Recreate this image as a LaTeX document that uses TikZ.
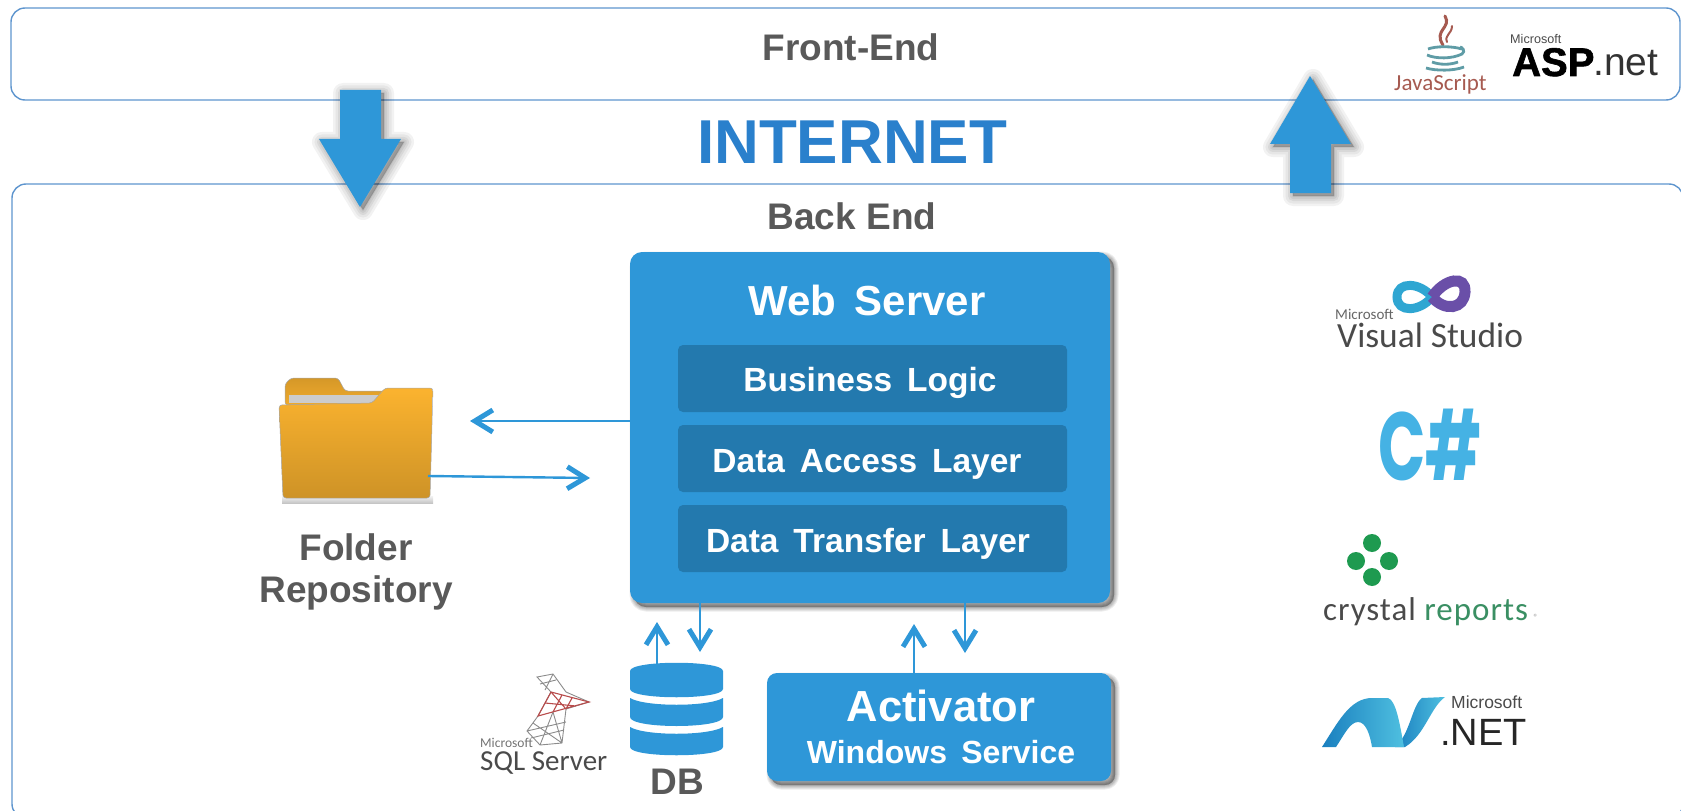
\documentclass[tikz,border=0pt]{standalone}
\usepackage{fontspec}
\setmainfont{Liberation Sans}
\newfontfamily\wideface[WordSpace=1.6]{Liberation Sans}
\newfontfamily\heavyface[FakeBold=1.5]{Liberation Sans Bold}
\newfontfamily\logoface{Carlito}
\newfontfamily\crystalface[LetterSpace=3]{Carlito}
\newfontfamily\roundface{Poppins}
\usetikzlibrary{arrows.meta}
\definecolor{rimblue}{HTML}{5E95CE}
\definecolor{mainblue}{HTML}{2E97D8}
\definecolor{deepblue}{HTML}{2379AE}
\definecolor{netblue}{HTML}{2A80CC}
\definecolor{greytext}{HTML}{595959}
\definecolor{msgrey}{HTML}{4A4A4A}
\definecolor{foldergold}{HTML}{FBB32F}
\definecolor{jsbrown}{HTML}{A65A50}
\definecolor{jsteal}{HTML}{5F9CA6}
\definecolor{sharpblue}{HTML}{45B2E4}
\definecolor{dotgreen}{HTML}{1E9A50}
\definecolor{reportgreen}{HTML}{3A8F63}
\definecolor{loopcyan}{HTML}{2FA6D2}
\definecolor{loopviolet}{HTML}{6A4FA8}
\definecolor{wavedark}{HTML}{1A7FBF}
\definecolor{wavelight}{HTML}{4FC0E0}
\tikzset{
	panel/.style={draw=rimblue,line width=1.4pt,rounded corners=14pt},
	softring/.style n args={3}{preaction={draw=black,fill=black,opacity=#3,line width=#1,line join=round,transform canvas={xshift=#2,yshift=-#2}}},
	softshadow/.style={softring={9pt}{4pt}{.07},softring={7pt}{4pt}{.07},softring={5pt}{4pt}{.08},softring={3pt}{4pt}{.08},softring={1pt}{4pt}{.08}},
	wideshadow/.style={softring={20pt}{3pt}{.05},softring={15pt}{3pt}{.05},softring={10pt}{3pt}{.06},softring={6pt}{3pt}{.06},softring={2pt}{3pt}{.06}},
	card/.style={fill=mainblue,rounded corners=12pt,softshadow},
	layer/.style={fill=deepblue,rounded corners=5pt},
	bigarrow/.style={fill=mainblue,wideshadow},
	wire/.style={draw=mainblue,line width=2.4pt,-{Straight Barb[length=18pt,width=22pt,line width=5pt]}},
	head/.style={font=\bfseries\fontsize{37}{37}\selectfont,text=greytext,anchor=base,inner sep=0},
	boxtext/.style={font=\wideface\bfseries\fontsize{33.5}{33.5}\selectfont,text=white,anchor=base,inner sep=0},
	logotext/.style={anchor=base west,inner sep=0,text=msgrey},
}
\begin{document}
\begin{tikzpicture}[x=1pt,y=-1pt]
	\useasboundingbox (0,0) rectangle (1681,810.5);
	\begin{scope}
	\clip (0,0) rectangle (1681,812);
	\draw[panel] (11,8) rectangle (1680,100);
	\draw[panel] (12,184) rectangle (1683,818);
	\end{scope}
	\path[bigarrow] (340,90) -- (381,90) -- (381,139) -- (401,139) -- (360,207) -- (319,139) -- (340,139) -- cycle;
	\path[bigarrow] (1290,193) -- (1331,193) -- (1331,144) -- (1351,144) -- (1310,76) -- (1270,144) -- (1290,144) -- cycle;
	\node[head] (front) at (851,61) {Front-End};
	\node[anchor=base,inner sep=0,text=netblue,font=\bfseries\fontsize{62}{62}\selectfont] (internet) at (852,164) {INTERNET};
	\node[head] (backend) at (852,229) {Back End};

	\path[card] (630,252) rectangle (1110,603);
	\coordinate (serverw) at (630,421);
	\path[layer] (678,345) rectangle (1067,412);
	\path[layer] (678,425) rectangle (1067,492);
	\path[layer] (678,505) rectangle (1067,572);
	\node[boxtext,font=\wideface\bfseries\fontsize{42}{42}\selectfont] (server) at (867,315) {Web Server};
	\node[boxtext] (logic) at (870,391) {Business Logic};
	\node[boxtext] (access) at (867,472) {Data Access Layer};
	\node[boxtext] (transfer) at (868,552) {Data Transfer Layer};

	\path[card,rounded corners=10pt] (767,673) rectangle (1111,781);
	\node[boxtext,font=\bfseries\fontsize{43.5}{43.5}\selectfont] (activator) at (941,721) {Activator};
	\node[boxtext,font=\wideface\bfseries\fontsize{32}{32}\selectfont] (service) at (941,763) {Windows Service};

	\path[top color=black!10,bottom color=black!45,opacity=.5] (282,496) rectangle (433,503);
	\path[top color=foldergold!85!black,bottom color=foldergold!95!black,draw=black!35,line width=.5pt,rounded corners=3pt] (285,405) -- (285,384) -- (291,378) -- (338,378) -- (345,391) -- (385,391) -- (385,405) -- cycle;
	\path[fill=black!20] (289,395) rectangle (378,403);
	\path[top color=foldergold,bottom color=foldergold!82!black,draw=black!35,line width=.5pt,rounded corners=3pt] (279,405) -- (372,403) -- (385,388) -- (433,388) -- (430,498) -- (283,498) -- cycle;
	\coordinate (folderout) at (428,476);
	\node[head] (folder) at (356,560) {Folder};
	\node[head] (repo) at (356,602) {Repository};

	\coordinate (tipa) at (470,421);
	\coordinate (tipb) at (590,478);
	\coordinate (tipc) at (657,622);
	\coordinate (tipd) at (700,652);
	\coordinate (tipe) at (914,624);
	\coordinate (tipf) at (965,653);
	\coordinate (dbtop) at (657,664);
	\coordinate (acttop) at (914,673);
	\coordinate (serverc) at (700,603);
	\coordinate (serverd) at (965,603);
	\draw[wire] (serverw) -- (tipa);
	\draw[wire] (folderout) -- (tipb);
	\draw[wire] (dbtop) -- (tipc);
	\draw[wire] (serverc) -- (tipd);
	\draw[wire] (acttop) -- (tipe);
	\draw[wire] (serverd) -- (tipf);

	\fill[mainblue] (630,671) .. controls (630,660) and (723,660) .. (723,671) -- (723,689) .. controls (723,700) and (630,700) .. (630,689) -- cycle;
	\fill[mainblue] (630,698) .. controls (645,707) and (708,707) .. (723,698) -- (723,717) .. controls (723,729) and (630,729) .. (630,717) -- cycle;
	\fill[mainblue] (630,727) .. controls (645,736) and (708,736) .. (723,727) -- (723,747) .. controls (723,758) and (630,758) .. (630,747) -- cycle;
	\node[head] (db) at (677,794) {DB};

	\draw[draw=black!45,line width=.9pt] (537,677) -- (553,674) -- (566,692) -- (589,702) -- (566,709) -- (562,743) -- (540,745) -- (527,731) -- (538,716) -- (551,692) -- cycle (527,731) -- (566,722) (533,723) -- (562,743) (540,745) -- (553,712) -- (562,743) (531,738) -- (564,730) (540,684) -- (556,680) (545,690) -- (553,674);
	\draw[draw=red!60!black!70,line width=1.1pt] (551,692) -- (589,702) -- (538,716) -- cycle (562,695) -- (553,712) (572,698) -- (566,709) (545,703) -- (576,706) (551,692) -- (566,709);
	\node[logotext,text=black!55,font=\logoface\fontsize{13.5}{13.5}\selectfont] (sqlms) at (480,747) {Microsoft};
	\node[logotext,font=\logoface\fontsize{29}{29}\selectfont] (sql) at (480,770) {SQL Server};

	\draw[draw=jsbrown,line width=3pt,line cap=round] (1445,16) .. controls (1452,28) and (1433,30) .. (1443,45);
	\draw[draw=jsbrown,line width=2pt,line cap=round] (1452,26) .. controls (1452,34) and (1444,35) .. (1447,42);
	\draw[draw=jsteal,line width=2.8pt] (1428,49) .. controls (1436,46) and (1452,46) .. (1462,49) (1427,55) .. controls (1436,59) and (1452,59) .. (1462,54) .. controls (1466,51) and (1462,47) .. (1460,47) (1432,62) .. controls (1440,65) and (1450,65) .. (1458,62) (1426,68) .. controls (1436,71) and (1454,71) .. (1464,67);
	\node[logotext,text=jsbrown,font=\logoface\fontsize{23}{23}\selectfont] (jscript) at (1394,91) {JavaScript};
	\node[logotext,font=\fontsize{12.6}{12.6}\selectfont] (aspms) at (1510,44) {Microsoft};
	\node[logotext,text=black,font=\heavyface\fontsize{40}{40}\selectfont] (asp) at (1512,76) {ASP};
	\node[logotext,text=black!80,font=\fontsize{39}{39}\selectfont] (aspnet) at (1593,76) {.net};

	\draw[draw=loopcyan,line width=9pt] (1432,297) .. controls (1420,282) and (1397,281) .. (1397,297) .. controls (1397,313) and (1420,312) .. (1432,297);
	\draw[draw=loopviolet,line width=11pt] (1432,297) .. controls (1445,278) and (1466,275) .. (1465,292) .. controls (1464,309) and (1445,312) .. (1432,297);
	\node[logotext,text=black!60,font=\logoface\fontsize{15}{15}\selectfont] (vsms) at (1335,319) {Microsoft};
	\node[logotext,font=\logoface\fontsize{35.4}{35.4}\selectfont] (vstudio) at (1337,347) {Visual Studio};

	\node[anchor=base,inner sep=0,text=sharpblue,font=\roundface\bfseries\fontsize{84}{84}\selectfont] (csharp) at (1430,480) {\scalebox{.74}[1.15]{C\#}};

	\fill[dotgreen] (1372,543) circle (9) (1356,561) circle (9) (1389,561) circle (9) (1372,577) circle (9);
	\node[logotext,font=\crystalface\fontsize{33}{33}\selectfont] (crystal) at (1323,620) {crystal \textcolor{reportgreen}{reports}\,\textcolor{black!40}{\fontsize{9}{9}\selectfont ®}};

	\path[left color=wavedark,right color=wavelight] (1395,747) .. controls (1410,735) and (1412,705) .. (1422,698) -- (1445,697) .. controls (1430,708) and (1425,735) .. (1405,747) -- cycle;
	\path[left color=wavedark,right color=wavelight] (1322,747) .. controls (1338,722) and (1350,698) .. (1372,698) -- (1388,698) .. controls (1396,700) and (1400,725) .. (1404,747) -- (1372,747) .. controls (1370,735) and (1366,722) .. (1358,722) .. controls (1350,722) and (1344,735) .. (1336,747) -- cycle;
	\node[logotext,font=\fontsize{17.5}{17.5}\selectfont] (netms) at (1451,708) {Microsoft};
	\node[logotext,text=black!85,font=\fontsize{38}{38}\selectfont] (dotnet) at (1440,745) {.NET};
\end{tikzpicture}
\end{document}
